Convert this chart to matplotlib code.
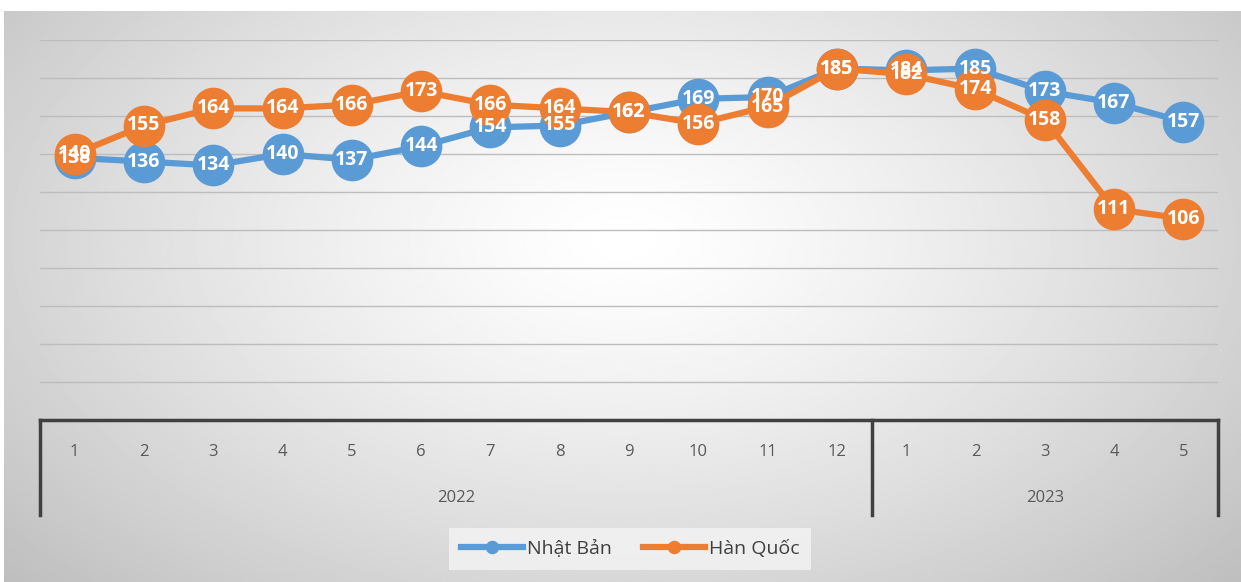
import matplotlib.pyplot as plt
import numpy as np
from matplotlib.transforms import blended_transform_factory

plt.rcParams['font.family'] = ['Open Sans', 'DejaVu Sans']

months = ['1', '2', '3', '4', '5', '6', '7', '8', '9', '10', '11', '12',
          '1', '2', '3', '4', '5']
years = ['2022', '2023']
year_sizes = [12, 5]
nhat_ban = [138, 136, 134, 140, 137, 144, 154, 155, 162, 169, 170, 185,
            184, 185, 173, 167, 157]
han_quoc = [140, 155, 164, 164, 166, 173, 166, 164, 162, 156, 165, 185,
            182, 174, 158, 111, 106]

W, H = 1241, 582
fig = plt.figure(figsize=(W / 100, H / 100), dpi=100)

# nền gradient xám
bg = fig.add_axes([4 / W, 0, 1 - 4 / W, (H - 11) / H])
yy, xx = np.mgrid[0:300, 0:600]
cx, cy = 300, 120
r = np.sqrt(((xx - cx) / 600) ** 2 + ((yy - cy) / 300) ** 2 * 0.6)
val = 1.0 - 0.42 * np.clip(r, 0, 1) ** 1.3
bg.imshow(val, cmap='gray', vmin=0, vmax=1, aspect='auto', interpolation='bilinear')
bg.axis('off')

ax = fig.add_axes([40 / W, (H - 420) / H, (1218 - 40) / W, 380 / H])
ax.set_facecolor('none')
x = np.arange(len(months))
ax.set_xlim(-0.5, len(months) - 0.5)
ax.set_ylim(0, 200)
for s in ax.spines.values():
    s.set_visible(False)
ax.set_xticks([])
ax.set_yticks(np.arange(20, 201, 20))
ax.tick_params(axis='y', length=0, labelleft=False)
ax.grid(axis='y', color='#bdbdbd', linewidth=1)

blue = '#5b9bd5'
orange = '#ed7d31'
ax.plot(x, nhat_ban, color=blue, lw=4.5, marker='o', ms=29, label='Nhật Bản', zorder=3)
ax.plot(x, han_quoc, color=orange, lw=4.5, marker='o', ms=29, label='Hàn Quốc', zorder=4)
for xi, v in zip(x, nhat_ban):
    ax.text(xi, v, str(v), color='white', fontsize=14, fontweight='bold',
            ha='center', va='center', zorder=5)
for xi, v in zip(x, han_quoc):
    ax.text(xi, v, str(v), color='white', fontsize=14, fontweight='bold',
            ha='center', va='center', zorder=5)

# trục phân loại nhiều cấp
tr = blended_transform_factory(ax.transData, ax.transAxes)
ax_h = 380.0
ax.plot([-0.5, len(months) - 0.5], [0, 0], color='#404040', lw=2.5,
        transform=tr, clip_on=False, zorder=6)
edges = np.concatenate([[0], np.cumsum(year_sizes)]) - 0.5
for e in edges:
    ax.plot([e, e], [0, -95 / ax_h], color='#404040', lw=2.5,
            transform=tr, clip_on=False)
for xi, m in zip(x, months):
    ax.text(xi, -32 / ax_h, m, transform=tr, ha='center', va='center',
            fontsize=12, color='#595959')
for i, yl in enumerate(years):
    ax.text((edges[i] + edges[i + 1]) / 2, -78 / ax_h, yl, transform=tr,
            ha='center', va='center', fontsize=12, color='#595959')

leg = fig.legend(loc='center', bbox_to_anchor=(630 / W, (H - 549) / H), ncol=2,
                 frameon=True, fontsize=14, markerscale=0.3, handlelength=3.2,
                 columnspacing=1.6, handletextpad=0.2, borderpad=0.6,
                 fancybox=False)
leg.get_frame().set_facecolor('#f4f4f4')
leg.get_frame().set_edgecolor('none')
leg.get_frame().set_alpha(0.8)
for t in leg.get_texts():
    t.set_color('#404040')

fig.savefig('out.png', dpi=100)
